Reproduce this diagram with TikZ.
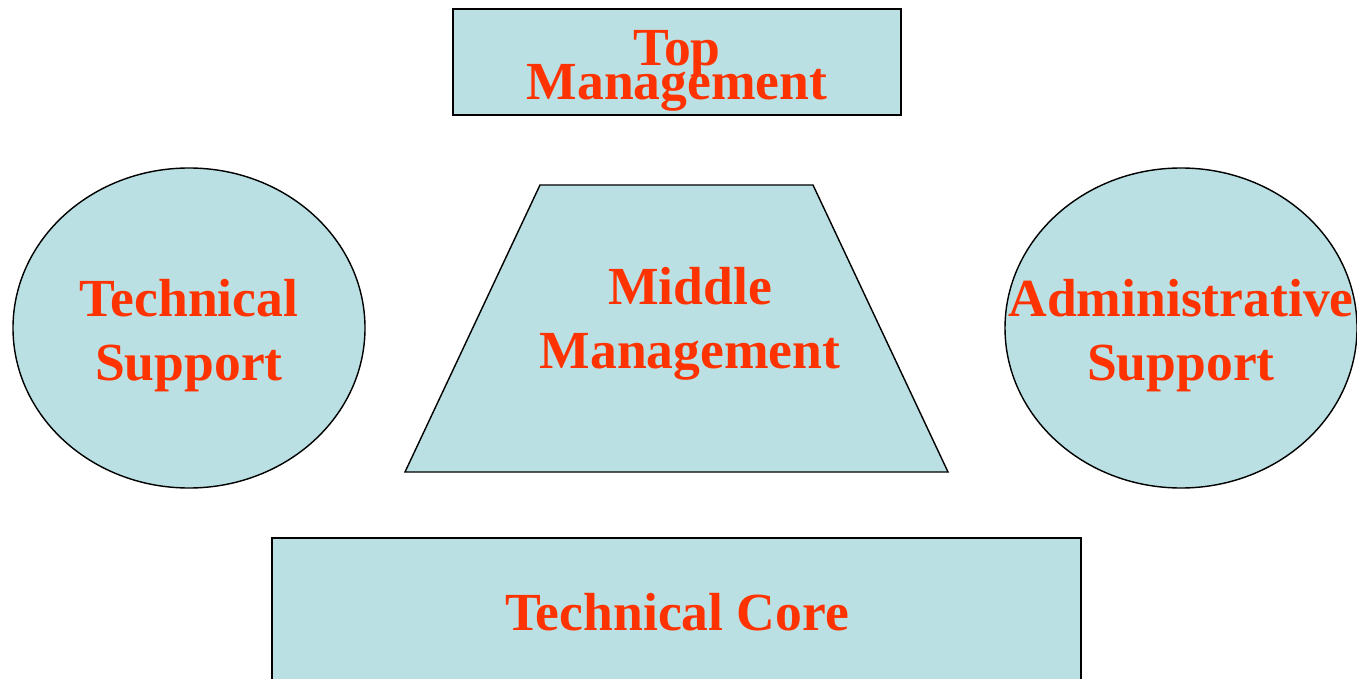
\documentclass[tikz,border=0pt]{standalone}
\usepackage{fontspec}
\setmainfont{Liberation Serif}
\usetikzlibrary{shapes.geometric,positioning}
\definecolor{paleteal}{HTML}{BAE0E3}
\definecolor{labelred}{HTML}{FF3300}
\tikzset{
  every node/.style={
    font=\bfseries\fontsize{30.5}{36.5}\selectfont,
    text=labelred,
    align=center
  },
  block/.style={
    shape=rectangle,
    draw=black,
    line width=1pt,
    fill=paleteal,
    inner sep=0pt
  },
  support/.style={
    shape=ellipse,
    draw=black,
    line width=0.8pt,
    fill=paleteal,
    minimum width=7.04cm,
    minimum height=6.4cm,
    inner sep=0pt
  }
}

\begin{document}
\begin{tikzpicture}

\useasboundingbox (0,0) rectangle (27.14,13.56);

% top of the organisation
\node [block, minimum width=8.96cm, minimum height=2.12cm] (top) at (13.54,12.32) {};
\node (top label) at (13.54,12.14) {Top\\[-17.5pt]Management};

% middle line
\coordinate (mid sw) at (8.1,4.12);
\coordinate (mid nw) at (10.8,9.86);
\coordinate (mid ne) at (16.26,9.86);
\coordinate (mid se) at (18.96,4.12);
\draw [line width=0.8pt, fill=paleteal] (mid sw) -- (mid nw) -- (mid ne) -- (mid se) -- cycle;
\node (middle) at (13.8,7.08) {Middle\\Management};

% staff on both sides
\node [support] (techsupport) at (3.78,7.0) {};
\node (tech label) at (3.78,6.84) {Technical\\Support};
\node [support] (adminsupport) at (23.62,7.0) {};
\node (admin label) at (23.62,6.84) {Administrative\\Support};

% operating core
\node [block, minimum width=16.18cm, minimum height=3.2cm, anchor=north] (core) at (13.53,2.82) {};
\node (core label) at (13.54,1.32) {Technical Core};

\end{tikzpicture}
\end{document}
